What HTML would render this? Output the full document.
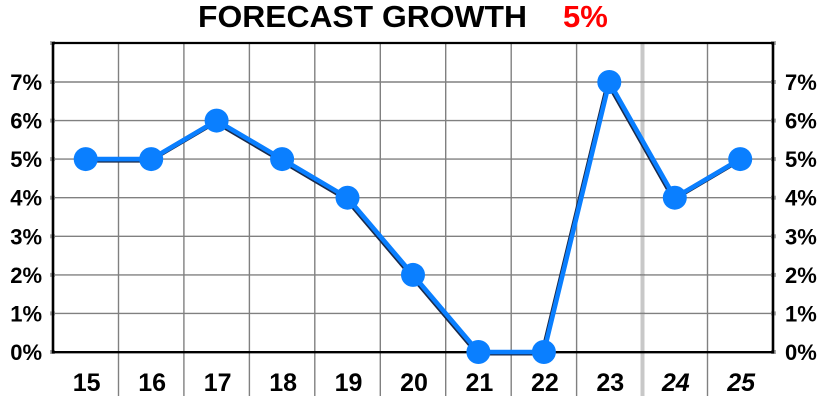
<!DOCTYPE html>
<html><head><meta charset="utf-8"><style>
html,body{margin:0;padding:0;background:#fff;}
svg{display:block;}
text{font-family:"Liberation Sans",Arial,sans-serif;font-weight:bold;}
</style></head><body>
<svg width="824" height="404" viewBox="0 0 824 404" xmlns="http://www.w3.org/2000/svg">
<rect width="824" height="404" fill="#fff"/>
<text x="198" y="27" font-size="31" fill="#000" textLength="329" lengthAdjust="spacingAndGlyphs">FORECAST GROWTH</text>
<text x="563" y="27" font-size="31" fill="#ff0000">5%</text>
<g stroke="#808080" stroke-width="1.4">
<line x1="53" y1="313.4" x2="773" y2="313.4"/>
<line x1="53" y1="274.9" x2="773" y2="274.9"/>
<line x1="53" y1="236.3" x2="773" y2="236.3"/>
<line x1="53" y1="197.7" x2="773" y2="197.7"/>
<line x1="53" y1="159.1" x2="773" y2="159.1"/>
<line x1="53" y1="120.6" x2="773" y2="120.6"/>
<line x1="53" y1="82" x2="773" y2="82"/>
<line x1="118.5" y1="43" x2="118.5" y2="396"/>
<line x1="183.9" y1="43" x2="183.9" y2="396"/>
<line x1="249.4" y1="43" x2="249.4" y2="396"/>
<line x1="314.8" y1="43" x2="314.8" y2="396"/>
<line x1="380.3" y1="43" x2="380.3" y2="396"/>
<line x1="445.7" y1="43" x2="445.7" y2="396"/>
<line x1="511.2" y1="43" x2="511.2" y2="396"/>
<line x1="576.6" y1="43" x2="576.6" y2="396"/>
<line x1="707.5" y1="43" x2="707.5" y2="396"/>
</g>
<line x1="642.5" y1="43" x2="642.5" y2="396" stroke="#c8c8c8" stroke-width="4"/>
<g stroke="#808080" stroke-width="1.4">
<line x1="640" y1="274.9" x2="645" y2="274.9"/>
<line x1="640" y1="236.3" x2="645" y2="236.3"/>
<line x1="640" y1="197.7" x2="645" y2="197.7"/>
<line x1="640" y1="159.1" x2="645" y2="159.1"/>
<line x1="640" y1="120.6" x2="645" y2="120.6"/>
<line x1="640" y1="82" x2="645" y2="82"/>
<line x1="640" y1="313.4" x2="645" y2="313.4"/>
</g>
<!-- tick squares -->
<g fill="#aaa">
<rect x="50" y="41" width="5" height="4"/>
<rect x="50" y="80" width="5" height="4"/>
<rect x="50" y="118.6" width="5" height="4"/>
<rect x="50" y="157.1" width="5" height="4"/>
<rect x="50" y="195.7" width="5" height="4"/>
<rect x="50" y="234.3" width="5" height="4"/>
<rect x="50" y="272.9" width="5" height="4"/>
<rect x="50" y="311.4" width="5" height="4"/>
<rect x="50" y="350" width="5" height="4"/>
<rect x="771" y="41" width="5" height="4"/>
<rect x="771" y="80" width="5" height="4"/>
<rect x="771" y="118.6" width="5" height="4"/>
<rect x="771" y="157.1" width="5" height="4"/>
<rect x="771" y="195.7" width="5" height="4"/>
<rect x="771" y="234.3" width="5" height="4"/>
<rect x="771" y="272.9" width="5" height="4"/>
<rect x="771" y="311.4" width="5" height="4"/>
<rect x="771" y="350" width="5" height="4"/>
</g>
<!-- frame -->
<line x1="53" y1="43" x2="774" y2="43" stroke="#000" stroke-width="2.2"/>
<line x1="53" y1="42" x2="53" y2="353.5" stroke="#000" stroke-width="2.6"/>
<line x1="773" y1="42" x2="773" y2="353.5" stroke="#000" stroke-width="2.6"/>
<line x1="52" y1="352.2" x2="774" y2="352.2" stroke="#000" stroke-width="2.4"/>
<!-- series shadow -->
<polyline fill="none" stroke="#1a2a4a" stroke-width="5" stroke-linejoin="round" transform="translate(-1,1)"
points="85.7,159.1 151.2,159.1 216.6,120.6 282.1,159.1 347.5,197.7 413,274.9 478.4,352 543.9,352 609.3,82 674.8,197.7 740.2,159.1"/>
<polyline fill="none" stroke="#0a7fff" stroke-width="4.6" stroke-linejoin="round"
points="85.7,159.1 151.2,159.1 216.6,120.6 282.1,159.1 347.5,197.7 413,274.9 478.4,352 543.9,352 609.3,82 674.8,197.7 740.2,159.1"/>
<g fill="#0a7fff">
<circle cx="85.7" cy="159.1" r="12"/>
<circle cx="151.2" cy="159.1" r="12"/>
<circle cx="216.6" cy="120.6" r="12"/>
<circle cx="282.1" cy="159.1" r="12"/>
<circle cx="347.5" cy="197.7" r="12"/>
<circle cx="413" cy="274.9" r="12"/>
<circle cx="478.4" cy="352" r="12"/>
<circle cx="543.9" cy="352" r="12"/>
<circle cx="609.3" cy="82" r="12"/>
<circle cx="674.8" cy="197.7" r="12"/>
<circle cx="740.2" cy="159.1" r="12"/>
</g>
<!-- left labels -->
<g font-size="22" text-anchor="end" fill="#000">
<text x="42" y="90">7%</text>
<text x="42" y="128.6">6%</text>
<text x="42" y="167.1">5%</text>
<text x="42" y="205.7">4%</text>
<text x="42" y="244.3">3%</text>
<text x="42" y="282.9">2%</text>
<text x="42" y="321.4">1%</text>
<text x="42" y="360">0%</text>
</g>
<g font-size="22" text-anchor="start" fill="#000">
<text x="785" y="90">7%</text>
<text x="785" y="128.6">6%</text>
<text x="785" y="167.1">5%</text>
<text x="785" y="205.7">4%</text>
<text x="785" y="244.3">3%</text>
<text x="785" y="282.9">2%</text>
<text x="785" y="321.4">1%</text>
<text x="785" y="360">0%</text>
</g>
<!-- x labels -->
<g font-size="25" text-anchor="middle" fill="#000">
<text x="86.7" y="391">15</text>
<text x="152.2" y="391">16</text>
<text x="217.6" y="391">17</text>
<text x="283.1" y="391">18</text>
<text x="348.5" y="391">19</text>
<text x="414" y="391">20</text>
<text x="479.4" y="391">21</text>
<text x="544.9" y="391">22</text>
<text x="610.3" y="391">23</text>
<text x="675.8" y="391" font-style="italic">24</text>
<text x="741.2" y="391" font-style="italic">25</text>
</g>
</svg>
</body></html>
